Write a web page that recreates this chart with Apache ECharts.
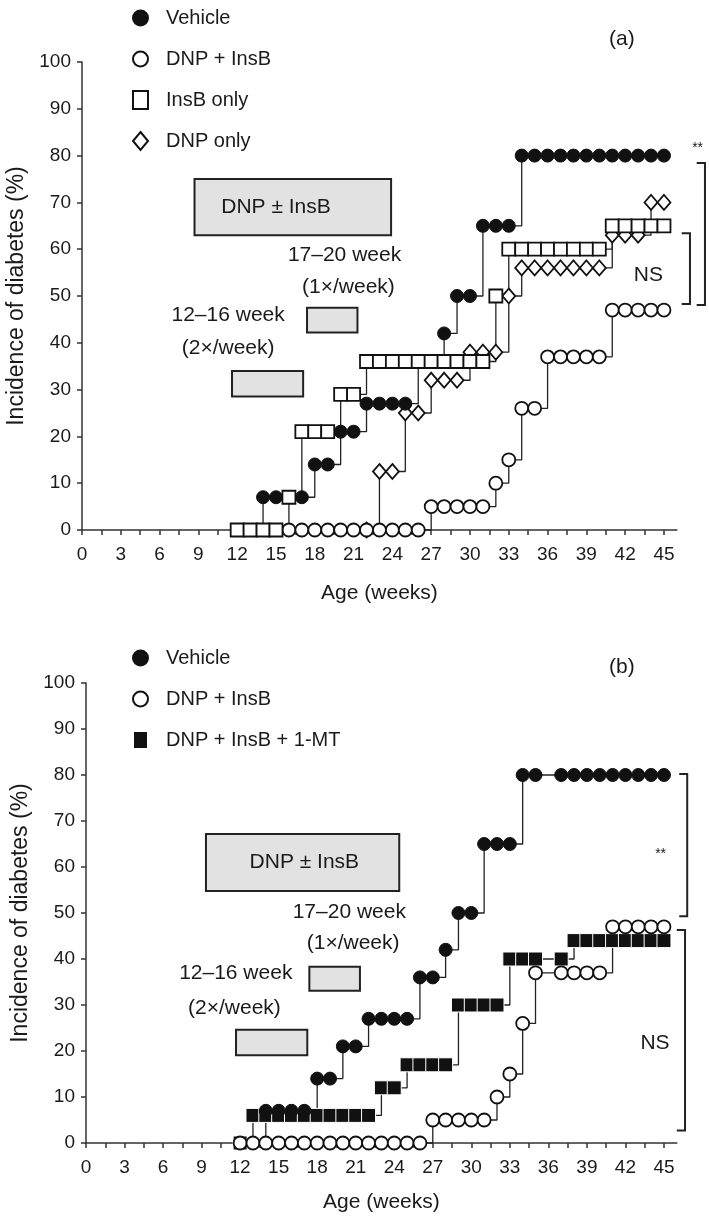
<!DOCTYPE html>
<html><head><meta charset="utf-8">
<script src="https://cdn.jsdelivr.net/npm/echarts@6/dist/echarts.min.js"></script>
<style>html,body{margin:0;padding:0;background:#fff}#c{width:709px;height:1219px}</style>
</head><body><div id="c"></div>
<script>
// ---------- tick labels ----------
const xLabelValues = [0,3,6,9,12,15,18,21,24,27,30,33,36,39,42,45];
const xTickValues = [0,1.5,3,4.5,6,7.5,9,10.5,12,13.5,15,16.5,18,19.5,21,22.5,24,25.5,27,28.5,30,31.5,33,34.5,36,37.5,39,40.5,42,43.5,45];

// ---------- panel (a) data: [week, incidence %] ----------
const aVehicle = [[13,0],[14,7],[15,7],[16,7],[17,7],[18,14],[19,14],[20,21],[21,21],[22,27],[23,27],[24,27],[25,27],[26,36],[27,36],[28,42],[29,50],[30,50],[31,65],[32,65],[33,65],[34,80],[35,80],[36,80],[37,80],[38,80],[39,80],[40,80],[41,80],[42,80],[43,80],[44,80],[45,80]];
const aDnpInsB = [[16,0],[17,0],[18,0],[19,0],[20,0],[21,0],[22,0],[23,0],[24,0],[25,0],[26,0],[27,5],[28,5],[29,5],[30,5],[31,5],[32,10],[33,15],[34,26],[35,26],[36,37],[37,37],[38,37],[39,37],[40,37],[41,47],[42,47],[43,47],[44,47],[45,47]];
const aInsBOnly = [[12,0],[13,0],[14,0],[15,0],[16,7],[17,21],[18,21],[19,21],[20,29],[21,29],[22,36],[23,36],[24,36],[25,36],[26,36],[27,36],[28,36],[29,36],[30,36],[31,36],[32,50],[33,60],[34,60],[35,60],[36,60],[37,60],[38,60],[39,60],[40,60],[41,65],[42,65],[43,65],[44,65],[45,65]];
const aDnpOnly = [[22,0],[23,12.5],[24,12.5],[25,25],[26,25],[27,32],[28,32],[29,32],[30,38],[31,38],[32,38],[33,50],[34,56],[35,56],[36,56],[37,56],[38,56],[39,56],[40,56],[41,63],[42,63],[43,63],[44,70],[45,70]];

// ---------- panel (b) data ----------
const bVehicle = [[13,0],[14,7],[15,7],[16,7],[17,7],[18,14],[19,14],[20,21],[21,21],[22,27],[23,27],[24,27],[25,27],[26,36],[27,36],[28,42],[29,50],[30,50],[31,65],[32,65],[33,65],[34,80],[35,80],[37,80],[38,80],[39,80],[40,80],[41,80],[42,80],[43,80],[44,80],[45,80]];
const bDnpInsB = [[12,0],[13,0],[14,0],[15,0],[16,0],[17,0],[18,0],[19,0],[20,0],[21,0],[22,0],[23,0],[24,0],[25,0],[26,0],[27,5],[28,5],[29,5],[30,5],[31,5],[32,10],[33,15],[34,26],[35,37],[37,37],[38,37],[39,37],[40,37],[41,47],[42,47],[43,47],[44,47],[45,47]];
const bDnpInsB1MT = [[12,0],[13,6],[14,6],[15,6],[16,6],[17,6],[18,6],[19,6],[20,6],[21,6],[22,6],[23,12],[24,12],[25,17],[26,17],[27,17],[28,17],[29,30],[30,30],[31,30],[32,30],[33,40],[34,40],[35,40],[37,40],[38,44],[39,44],[40,44],[41,44],[42,44],[43,44],[44,44],[45,44]];

// ---------- annotations (data coordinates) ----------
// boxes: [x0, x1, y0, y1]
const aBoxes = [[8.7,23.9,63,75],[17.4,21.3,42.2,47.5],[11.6,17.1,28.5,34.0]];
const bBoxes = [[9.34,24.39,54.8,67.2],[17.39,21.33,33.1,38.3],[11.68,17.23,19.1,24.6]];
const boxTitle = 'DNP ± InsB';
const aBoxTitlePos = [[15.0,69]];
const bBoxTitlePos = [[17.0,61]];
// text labels
const aNoteText = ['17–20 week','(1×/week)','12–16 week','(2×/week)','NS','**'];
const aNotePos = [[20.3,58.8],[20.6,51.9],[11.3,45.9],[11.3,38.9],[43.8,54.5],[47.6,81.6]];
const bNoteText = ['17–20 week','(1×/week)','12–16 week','(2×/week)','NS','**'];
const bNotePos = [[20.5,50.2],[20.8,43.5],[11.66,37.0],[11.56,29.3],[44.3,21.7],[44.74,62.8]];
// brackets: [xInner, xOuter, yTop, yBottom]
const aBrackets = [[47.53,48.17,78.4,48.1],[46.37,47.01,63.4,48.3]];
const bBrackets = [[46.19,46.81,80.2,49.3],[46.0,46.64,46.3,2.7]];

const FONT = '"Liberation Sans", Arial, Helvetica, sans-serif';
const INK = '#1a1a1a';

function xAxisCfg(g, gap) {
  return {
    type:'value', gridIndex:g, min:0, max:46, interval:3,
    name:'Age (weeks)', nameLocation:'middle', nameGap:gap,
    nameTextStyle:{fontFamily:FONT, fontSize:21, color:INK},
    axisLine:{show:true, onZero:false, lineStyle:{color:'#333', width:1.5}},
    axisTick:{show:true, length:5, lineStyle:{color:'#333', width:1.5}, customValues:xTickValues},
    axisLabel:{fontFamily:FONT, fontSize:19, color:INK, margin:15, customValues:xLabelValues},
    splitLine:{show:false}
  };
}
function yAxisCfg(g) {
  return {
    type:'value', gridIndex:g, min:0, max:100, interval:10,
    name:'Incidence of diabetes (%)', nameLocation:'middle', nameGap:53, nameRotate:90,
    nameTextStyle:{fontFamily:FONT, fontSize:23, color:INK},
    axisLine:{show:true, onZero:false, lineStyle:{color:'#333', width:1.5}},
    axisTick:{show:true, length:5, lineStyle:{color:'#333', width:1.5}},
    axisLabel:{fontFamily:FONT, fontSize:19, color:INK, margin:11},
    splitLine:{show:false}
  };
}
const SYM = {
  filled:{symbol:'circle', symbolSize:13, itemStyle:{color:'#111', borderColor:'#111', borderWidth:1}},
  open:{symbol:'circle', symbolSize:13, itemStyle:{color:'#fff', borderColor:'#111', borderWidth:1.8}},
  square:{symbol:'rect', symbolSize:13, itemStyle:{color:'#fff', borderColor:'#111', borderWidth:1.8}},
  diamond:{symbol:'diamond', symbolSize:[13,15], itemStyle:{color:'#fff', borderColor:'#111', borderWidth:1.8}},
  fsquare:{symbol:'rect', symbolSize:14, itemStyle:{color:'#111', borderColor:'#fff', borderWidth:1}}
};
function lineSeries(name, data, g, sym) {
  return Object.assign({
    type:'line', name:name, data:data, xAxisIndex:g, yAxisIndex:g, step:'end',
    showSymbol:true, clip:false, silent:true,
    lineStyle:{color:'#222', width:1.3}, emphasis:{disabled:true}
  }, sym);
}
function boxSeries(boxes, titlePos, g) {
  return [{
    type:'custom', xAxisIndex:g, yAxisIndex:g, data:boxes, silent:true, z:1,
    renderItem:function(params, api){
      const p0 = api.coord([api.value(0), api.value(3)]);
      const p1 = api.coord([api.value(1), api.value(2)]);
      return {type:'rect', shape:{x:p0[0], y:p0[1], width:p1[0]-p0[0], height:p1[1]-p0[1]},
        style:{fill:'#e2e2e2', stroke:'#222', lineWidth:2}};
    }
  },{
    type:'custom', xAxisIndex:g, yAxisIndex:g, data:titlePos, silent:true, z:3,
    renderItem:function(params, api){
      const p = api.coord([api.value(0), api.value(1)]);
      return {type:'text', x:p[0], y:p[1], style:{text:boxTitle, align:'center', verticalAlign:'middle', font:'21px '+FONT, fill:INK}};
    }
  }];
}
function noteSeries(pos, texts, g) {
  return {
    type:'custom', xAxisIndex:g, yAxisIndex:g, data:pos, silent:true, z:3,
    renderItem:function(params, api){
      const p = api.coord([api.value(0), api.value(1)]);
      const t = texts[params.dataIndex];
      const size = t === '**' ? 14 : 21;
      return {type:'text', x:p[0], y:p[1], style:{text:t, align:'center', verticalAlign:'middle', font:size+'px '+FONT, fill:INK}};
    }
  };
}
function bracketSeries(br, g) {
  return {
    type:'custom', xAxisIndex:g, yAxisIndex:g, data:br, silent:true, z:3,
    renderItem:function(params, api){
      const a = api.coord([api.value(0), api.value(2)]);
      const b = api.coord([api.value(1), api.value(2)]);
      const c = api.coord([api.value(1), api.value(3)]);
      const d = api.coord([api.value(0), api.value(3)]);
      return {type:'polyline', shape:{points:[a,b,c,d]}, style:{fill:null, stroke:'#222', lineWidth:2}};
    }
  };
}
const legendBase = {orient:'vertical', left:127, itemWidth:15, itemHeight:18, itemGap:21, selectedMode:false,
  textStyle:{fontFamily:FONT, fontSize:20, color:INK, padding:[0,0,0,13]}};

const option = {
  animation:false,
  backgroundColor:'#fff',
  title:[
    {text:'(a)', left:604, top:24, textStyle:{fontFamily:FONT, fontSize:21, fontWeight:'normal', color:INK}},
    {text:'(b)', left:604, top:652, textStyle:{fontFamily:FONT, fontSize:21, fontWeight:'normal', color:INK}}
  ],
  legend:[
    Object.assign({top:3, data:[{name:'Vehicle', icon:'circle'},{name:'DNP + InsB', icon:'circle'},{name:'InsB only', icon:'rect'},{name:'DNP only', icon:'diamond'}]}, legendBase),
    Object.assign({top:643, data:[{name:'Vehicle', icon:'circle'},{name:'DNP + InsB', icon:'circle'},{name:'DNP + InsB + 1-MT', icon:'rect'}]}, legendBase)
  ],
  grid:[
    {left:82, top:62, width:594.9, height:468, outerBoundsMode:'none', containLabel:false},
    {left:86, top:683, width:590.8, height:460, outerBoundsMode:'none', containLabel:false}
  ],
  xAxis:[xAxisCfg(0, 53), xAxisCfg(1, 49)],
  yAxis:[yAxisCfg(0), yAxisCfg(1)],
  series:[].concat(
    boxSeries(aBoxes, aBoxTitlePos, 0),
    [noteSeries(aNotePos, aNoteText, 0), bracketSeries(aBrackets, 0)],
    [lineSeries('DNP only', aDnpOnly, 0, SYM.diamond),
     lineSeries('Vehicle', aVehicle, 0, SYM.filled),
     lineSeries('DNP + InsB', aDnpInsB, 0, SYM.open),
     lineSeries('InsB only', aInsBOnly, 0, SYM.square)],
    boxSeries(bBoxes, bBoxTitlePos, 1),
    [noteSeries(bNotePos, bNoteText, 1), bracketSeries(bBrackets, 1)],
    [lineSeries('DNP + InsB + 1-MT', bDnpInsB1MT, 1, SYM.fsquare),
     lineSeries('Vehicle', bVehicle, 1, SYM.filled),
     lineSeries('DNP + InsB', bDnpInsB, 1, SYM.open)]
  )
};
const chart = echarts.init(document.getElementById('c'), null, {renderer:'canvas'});
chart.setOption(option);
</script></body></html>
